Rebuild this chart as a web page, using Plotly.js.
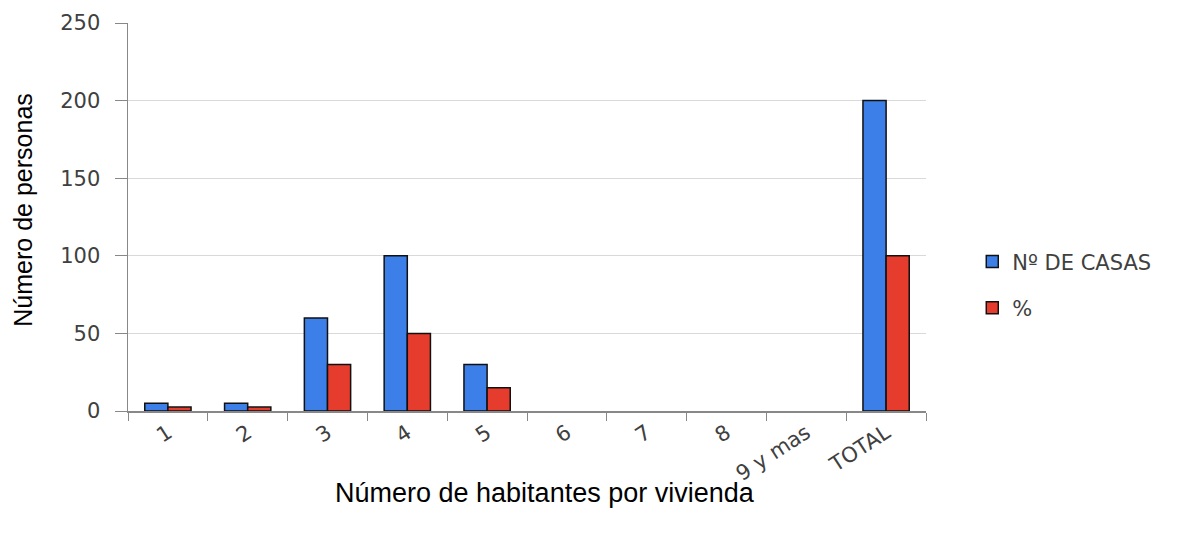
<!DOCTYPE html>
<html><head><meta charset="utf-8">
<script src="https://cdn.plot.ly/plotly-3.0.1.min.js"></script>
<style>html,body{margin:0;padding:0;background:#fff}</style>
</head><body><div id="chart" style="width:1203px;height:533px"></div>
<script>
const categories = ["1","2","3","4","5","6","7","8","9 y mas","TOTAL"];
const casas = [5,5,60,100,30,0,0,0,0,200];
const pct = [2.5,2.5,30,50,15,0,0,0,0,100];
const seriesNames = ["Nº DE CASAS","%"];
const xTitle = "Número de habitantes por vivienda";
const yTitle = "Número de personas";

const tickFont = {family:"DejaVu Sans, sans-serif", size:21, color:"#404040"};
const outline = vals => vals.map(v => v === 0 ? 0 : 1.5);
const data = [
  {type:"bar", x:categories, y:casas, name:seriesNames[0], legendgroup:"a",
   marker:{color:"#3d7fe8", line:{color:"#111", width:outline(casas)}}},
  {type:"bar", x:categories, y:pct, name:seriesNames[1], legendgroup:"b",
   marker:{color:"#e63c2e", line:{color:"#111", width:outline(pct)}}}
];
const layout = {
  width:1203, height:533,
  margin:{l:128, r:277, t:23, b:122},
  paper_bgcolor:"#fff", plot_bgcolor:"#fff",
  barmode:"group", bargap:0.42, bargroupgap:0,
  font:{family:"Liberation Sans, Arial, sans-serif", color:"#000"},
  xaxis:{
    type:"category",
    tickangle:-33, tickfont:tickFont,
    showline:true, linecolor:"#888", linewidth:1.5,
    ticks:"outside", tickson:"boundaries", ticklen:8, tickcolor:"#888",
    showgrid:false, automargin:false
  },
  yaxis:{
    range:[0,250], dtick:50, tickfont:tickFont,
    showline:true, linecolor:"#888", linewidth:1.5,
    ticks:"outside", ticklen:12, tickcolor:"#888",
    ticklabelstandoff:10,
    showgrid:true, gridcolor:"#d9d9d9", gridwidth:1,
    zeroline:false, automargin:false
  },
  annotations:[
    {text:xTitle, xref:"paper", yref:"paper", x:0.522, y:-0.211,
     xanchor:"center", yanchor:"middle", showarrow:false,
     font:{family:"Liberation Sans, Arial, sans-serif", size:27, color:"#000"}},
    {text:yTitle, xref:"paper", yref:"paper", x:-0.132, y:0.518, textangle:-90,
     xanchor:"center", yanchor:"middle", showarrow:false,
     font:{family:"Liberation Sans, Arial, sans-serif", size:25, color:"#000"}}
  ],
  legend:{x:1.058, xanchor:"left", y:0.325, yanchor:"middle",
    font:{family:"DejaVu Sans, sans-serif", size:21, color:"#404040"},
    tracegroupgap:16},
  showlegend:true
};
Plotly.newPlot("chart", data, layout, {displayModeBar:false, staticPlot:true});
</script></body></html>
